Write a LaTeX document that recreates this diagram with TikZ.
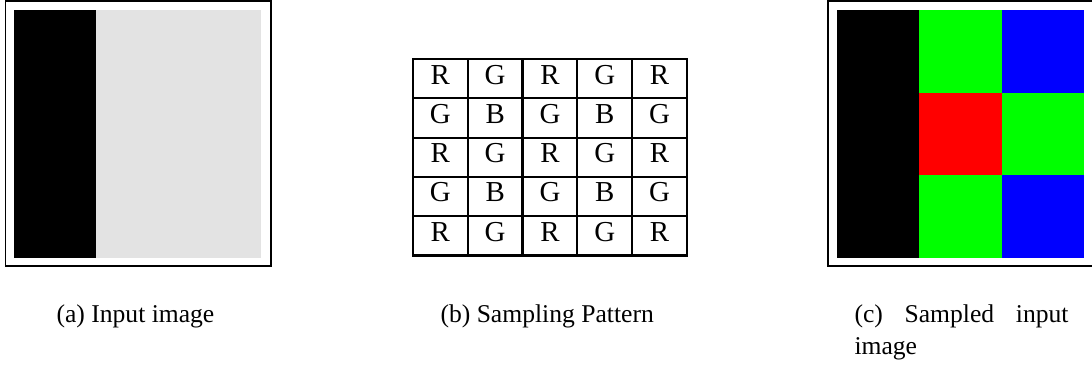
\documentclass[tikz,border=0pt]{standalone}
\usepackage{fontspec}
\setmainfont{Liberation Serif}

\definecolor{pixgray}{RGB}{227,227,227}
\definecolor{pixred}{RGB}{255,0,0}
\definecolor{pixgreen}{RGB}{0,255,0}
\definecolor{pixblue}{RGB}{0,0,255}

\begin{document}
\begin{tikzpicture}[x=0.3906pt,y=-0.3906pt,
  frame/.style={draw=black,line width=0.6pt},
  cellgrid/.style={draw=black,line width=0.85pt,line cap=rect},
  letter/.style={anchor=base,inner sep=0pt,font=\fontsize{11.3}{13.5}\selectfont},
  subcap/.style={anchor=base west,inner sep=0pt,font=\fontsize{10}{12.6}\selectfont}]
\useasboundingbox (0,0) rectangle (1092,364);

% (a) input image
\draw[frame] (5.5,1) rectangle (271,266);
\fill[black] (14,10) rectangle (96,258);
\fill[pixgray] (96,10) rectangle (261,258);
\node[subcap] (capa) at (56,322) {(a) Input image};

% (b) sampling pattern, 5x5 cells
\begin{scope}[shift={(413,59)},x=21.4pt,y=-15.35pt]
\foreach \i in {0,...,5} {
  \draw[cellgrid] (\i,0) -- (\i,5);
  \draw[cellgrid] (0,\i) -- (5,\i);
}
\foreach \r in {0,...,4}
  \foreach \c in {0,...,4} {
    \pgfmathsetmacro{\pr}{int(mod(\r,2))}
    \pgfmathsetmacro{\pc}{int(mod(\c,2))}
    \ifnum\pr=0
      \ifnum\pc=0 \def\ch{R}\else \def\ch{G}\fi
    \else
      \ifnum\pc=0 \def\ch{G}\else \def\ch{B}\fi
    \fi
    \node[letter] (p-\r-\c) at (\c+0.5,\r+0.636) {\ch};
  }
\end{scope}
\node[subcap] (capb) at (440,322) {(b) Sampling Pattern};

% (c) sampled input image
\draw[frame] (828,1) rectangle (1093.5,266);
\fill[black] (837,10) rectangle (919,258);
\fill[pixgreen] (919,10) rectangle (1002,93);
\fill[pixblue] (1002,10) rectangle (1084,93);
\fill[pixred] (919,93) rectangle (1002,175);
\fill[pixgreen] (1002,93) rectangle (1084,175);
\fill[pixgreen] (919,175) rectangle (1002,258);
\fill[pixblue] (1002,175) rectangle (1084,258);
\node[subcap,text width=83.6pt,align=justify] (capc) at (854,322)
  {(c) Sampled input image};
\end{tikzpicture}
\end{document}
